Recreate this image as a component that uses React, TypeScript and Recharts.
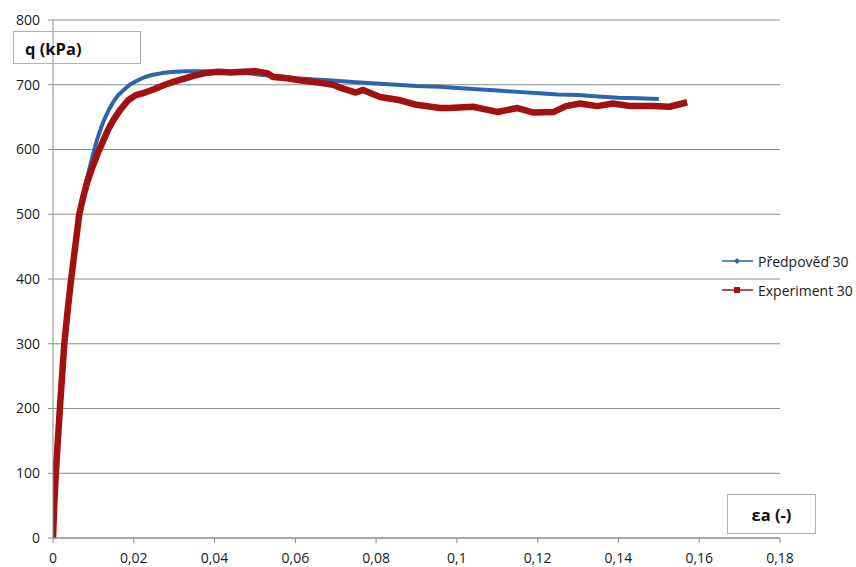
import React from 'react';
import { LineChart, Line, XAxis, YAxis, CartesianGrid } from 'recharts';

const xTicks = [0, 0.02, 0.04, 0.06, 0.08, 0.1, 0.12, 0.14, 0.16, 0.18];
const yTicks = [0, 100, 200, 300, 400, 500, 600, 700, 800];
const seriesNames = ['Předpověď 30', 'Experiment 30'];
const axisTitles = ['q (kPa)', 'εa (-)'];

const predStrain = [0, 0.0002, 0.0005, 0.0013, 0.002, 0.003, 0.004, 0.005, 0.006, 0.007, 0.008, 0.009, 0.0098, 0.0108, 0.0118, 0.0126, 0.0138, 0.0149, 0.016, 0.0175, 0.019, 0.021, 0.0228, 0.0245, 0.027, 0.03, 0.033, 0.036, 0.04, 0.044, 0.048, 0.052, 0.056, 0.06, 0.065, 0.07, 0.075, 0.08, 0.085, 0.09, 0.0958, 0.1, 0.105, 0.11, 0.115, 0.1205, 0.125, 0.13, 0.135, 0.14, 0.145, 0.15];
const predQ = [0, 60, 110, 170, 235, 315, 375, 428, 475, 515, 545, 570, 590, 613, 632, 645, 661, 673, 683, 692, 700, 707, 712, 715, 718, 720, 721, 721, 720, 720, 718, 715, 713, 710, 708, 706, 704, 702, 700, 698, 697, 695, 693, 691, 689, 687, 685, 684, 682, 680, 679, 678];

const expStrain = [0, 0.0003, 0.0007, 0.0012, 0.0017, 0.0028, 0.0036, 0.0045, 0.0055, 0.0065, 0.0075, 0.0085, 0.0096, 0.0104, 0.0112, 0.0124, 0.0136, 0.0149, 0.0165, 0.0186, 0.0205, 0.0228, 0.025, 0.0277, 0.03, 0.0327, 0.035, 0.0376, 0.041, 0.044, 0.047, 0.05, 0.053, 0.0545, 0.058, 0.061, 0.065, 0.0693, 0.0718, 0.075, 0.0768, 0.079, 0.081, 0.086, 0.09, 0.0958, 0.098, 0.104, 0.11, 0.115, 0.119, 0.124, 0.127, 0.1305, 0.1347, 0.1386, 0.143, 0.1486, 0.1527, 0.157];
const expQ = [0, 50, 100, 150, 200, 300, 350, 400, 450, 500, 527, 550, 570, 583, 596, 613, 630, 645, 660, 676, 684, 688, 693, 700, 705, 710, 714, 718, 720, 719, 720, 721, 718, 712, 710, 707, 704, 700, 694, 688, 692, 686, 681, 676, 669, 664, 664, 666, 658, 664, 657, 658, 667, 671, 667, 671, 667, 667, 666, 673];

const predData = predStrain.map((x, i) => ({ x, q: predQ[i] }));
const expData = expStrain.map((x, i) => ({ x, q: expQ[i] }));

const BLUE = '#2B65AE';
const RED = '#A31010';
const GRID = '#8C8C8C';
const FONT = '"Open Sans", "Liberation Sans", sans-serif';

const fmtX = (v: number) => (v === 0 ? '0' : String(+v.toFixed(2)).replace('.', ','));

export default function App() {
  return (
    <div style={{ position: 'absolute', left: 0, top: 0, width: 856, height: 567, background: '#fff', fontFamily: FONT }}>
      <LineChart width={856} height={567} margin={{ top: 20, right: 76, bottom: 0, left: 0 }}>
        <CartesianGrid vertical={false} stroke={GRID} strokeWidth={1} />
        <XAxis
          type="number"
          dataKey="x"
          domain={[0, 0.18]}
          ticks={xTicks}
          tickFormatter={fmtX}
          axisLine={{ stroke: GRID }}
          tickLine={{ stroke: GRID }}
          tickSize={5}
          tickMargin={10}
          height={29}
          interval={0}
          tick={{ fill: '#1a1a1a', fontSize: 14, fontFamily: FONT }}
          allowDataOverflow
        />
        <YAxis
          type="number"
          dataKey="q"
          domain={[0, 800]}
          ticks={yTicks}
          axisLine={{ stroke: GRID }}
          tickLine={{ stroke: GRID }}
          tickSize={5}
          tickMargin={8}
          width={53}
          interval={0}
          tick={{ fill: '#1a1a1a', fontSize: 14, fontFamily: FONT }}
        />
        <Line
          data={predData}
          dataKey="q"
          name={seriesNames[0]}
          type="linear"
          stroke={BLUE}
          strokeWidth={4}
          dot={false}
          isAnimationActive={false}
          strokeLinejoin="round"
        />
        <Line
          data={expData}
          dataKey="q"
          name={seriesNames[1]}
          type="linear"
          stroke={RED}
          strokeWidth={6.5}
          dot={false}
          isAnimationActive={false}
          strokeLinejoin="round"
        />
      </LineChart>

      <div style={{ position: 'absolute', left: 13, top: 31, width: 128, height: 33, border: '1px solid #B0B0B0', boxSizing: 'border-box' }}>
        <span style={{ position: 'absolute', left: 11, top: 5, fontWeight: 700, fontSize: 16.5, color: '#111' }}>{axisTitles[0]}</span>
      </div>
      <div style={{ position: 'absolute', left: 727, top: 494, width: 89, height: 40, border: '1px solid #B0B0B0', boxSizing: 'border-box', display: 'flex', alignItems: 'center', justifyContent: 'center' }}>
        <span style={{ fontWeight: 700, fontSize: 16.5, color: '#111' }}>{axisTitles[1]}</span>
      </div>

      <svg style={{ position: 'absolute', left: 0, top: 0 }} width={856} height={567} pointerEvents="none">
        <line x1={722} y1={261} x2={753} y2={261} stroke={BLUE} strokeWidth={1.5} />
        <polygon points="737,258 740,261 737,264 734,261" fill={BLUE} />
        <text x={758} y={261} dominantBaseline="central" fontSize={14} fontFamily={FONT} fill="#1a1a1a">{seriesNames[0]}</text>
        <line x1={722} y1={290} x2={753} y2={290} stroke={RED} strokeWidth={1.5} />
        <rect x={734} y={287} width={6} height={6} fill={RED} />
        <text x={758} y={290} dominantBaseline="central" fontSize={14} fontFamily={FONT} fill="#1a1a1a">{seriesNames[1]}</text>
      </svg>
    </div>
  );
}
